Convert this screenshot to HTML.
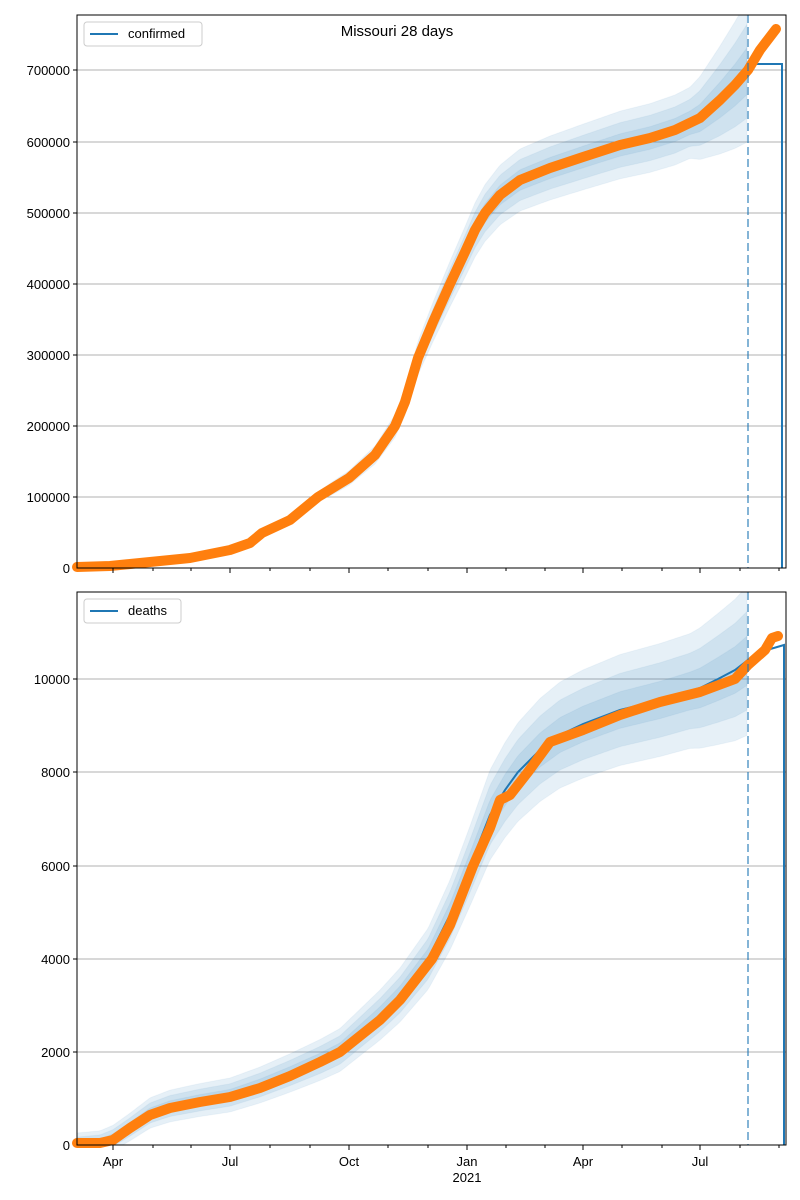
<!DOCTYPE html>
<html><head><meta charset="utf-8"><style>
body{margin:0;background:#fff;}
svg{display:block;font-family:"Liberation Sans","DejaVu Sans",sans-serif;}
</style></head><body>
<svg id="s" width="800" height="1200" xmlns="http://www.w3.org/2000/svg">
<rect width="800" height="1200" fill="#fff"/>
<g id="top"></g><g id="bot"></g>
<text x="397" y="36" font-size="15" text-anchor="middle">Missouri 28 days</text>
</svg>
<script>
const NS="http://www.w3.org/2000/svg";
function el(p,t,a,txt){const e=document.createElementNS(NS,t);for(const k in a)e.setAttribute(k,a[k]);if(txt!==undefined)e.textContent=txt;p.appendChild(e);return e;}
function interp(pts,x){if(x<=pts[0][0])return pts[0][1];for(let i=1;i<pts.length;i++){if(x<=pts[i][0]){const a=pts[i-1],b=pts[i];return a[1]+(b[1]-a[1])*(x-a[0])/(b[0]-a[0]);}}return pts[pts.length-1][1];}
function chart(g,y0,y1,yt,ylabs,model,obs,wfun,stepEnd,legend,xlabels){
  const X0=77,X1=786;
  yt.forEach((y,i)=>{el(g,'line',{x1:X0,x2:X1,y1:y,y2:y,stroke:'#b0b0b0','stroke-width':1});
    el(g,'line',{x1:X0-4,x2:X0,y1:y,y2:y,stroke:'#000'});
    el(g,'text',{x:X0-7,y:y+5,'font-size':13,'text-anchor':'end'},ylabs[i]);});
  [1,0.66,0.33].forEach(f=>{let up=[],dn=[];for(let x=X0;x<=748;x+=2){const c=interp(model,x),w=wfun(x,c)*f;up.push([x,Math.max(y0,c-w)]);dn.push([x,Math.min(y1,c+w)]);}
    const d='M'+up.map(p=>p.join(',')).join('L')+'L'+dn.reverse().map(p=>p.join(',')).join('L')+'Z';
    el(g,'path',{d:d,fill:'#1f77b4','fill-opacity':0.11,stroke:'#1f77b4','stroke-opacity':0.05});});
  let md='M'+model.map(p=>p.join(',')).join('L')+stepEnd;
  el(g,'path',{d:md,fill:'none',stroke:'#1f77b4','stroke-width':2});
  el(g,'polyline',{points:obs.map(p=>p.join(',')).join(' '),fill:'none',stroke:'#ff7f0e','stroke-width':10,'stroke-linecap':'round','stroke-linejoin':'round'});
  el(g,'line',{x1:748,x2:748,y1:y0,y2:y1,stroke:'#1f77b4','stroke-opacity':0.55,'stroke-width':2,'stroke-dasharray':'8,4'});
  el(g,'rect',{x:X0,y:y0,width:X1-X0,height:y1-y0,fill:'none',stroke:'#000','stroke-width':1});
  const maj=[113,230,349,467,583,700],mn=[153,191,270,310,388,428,506,545,622,662,740,779];
  maj.forEach(x=>el(g,'line',{x1:x,x2:x,y1:y1,y2:y1+5,stroke:'#000'}));
  mn.forEach(x=>el(g,'line',{x1:x,x2:x,y1:y1,y2:y1+3,stroke:'#000'}));
  if(xlabels){const L=['Apr','Jul','Oct','Jan','Apr','Jul'];maj.forEach((x,i)=>el(g,'text',{x:x,y:y1+21,'font-size':13,'text-anchor':'middle'},L[i]));
    el(g,'text',{x:467,y:y1+37,'font-size':13,'text-anchor':'middle'},'2021');}
  const lw=legend.length*7+55;
  el(g,'rect',{x:84,y:y0+7,width:lw,height:24,rx:3,fill:'#fff','fill-opacity':0.85,stroke:'#ccc'});
  el(g,'line',{x1:90,x2:118,y1:y0+19,y2:y0+19,stroke:'#1f77b4','stroke-width':2});
  el(g,'text',{x:128,y:y0+23,'font-size':13},legend);
}
const topObs=[[77,567],[110,566],[150,562],[190,558],[230,550],[250,543],[262,533],[290,520],[318,497],[349,478],[375,455],[395,426],[405,402],[418,358],[433,322],[450,284],[465,252],[475,230],[485,213],[500,195],[520,180],[550,168],[583,157],[620,145],[650,138],[675,130],[700,118],[720,100],[735,85],[748,70],[760,50],[776,29]];
chart(document.getElementById('top'),15,568,[568,497,426,355,284,213,142,70],['0','100000','200000','300000','400000','500000','600000','700000'],
 topObs.filter(p=>p[0]<=748),topObs,
 (x,c)=>{let w=0.08*(568-c);if(x<330)w*=Math.max(0,(x-250)/80);if(x>690)w+=(x-690)*0.55;return w;},
 'L748,64L782,64L782,568','confirmed',false);
const model=[[77,1145],[100,1143],[113,1138],[130,1127],[150,1113],[170,1106],[200,1100],[230,1095],[260,1085],[290,1073],[320,1060],[340,1050],[380,1015],[400,995],[428,959],[450,915],[470,866],[490,815],[505,790],[518,772],[540,750],[560,735],[583,724],[620,710],[660,700],[700,688],[718,679],[735,670],[748,660],[760,652],[784,645]];
const obs=[[77,1143],[100,1143],[113,1140],[130,1128],[150,1115],[170,1108],[200,1102],[230,1097],[260,1088],[290,1076],[320,1062],[340,1052],[380,1020],[400,1000],[432,959],[450,925],[473,866],[490,828],[500,800],[510,795],[528,772],[550,742],[583,730],[620,715],[660,702],[700,692],[735,679],[748,665],[765,650],[772,638],[778,636]];
chart(document.getElementById('bot'),592,1145,[1145,1052,959,866,772,679],['0','2000','4000','6000','8000','10000'],
 model,obs,(x,c)=>{let w=12+0.1*(1145-c);if(x>690)w+=(x-690)*0.25;return w;},
 'L784,1145','deaths',true);
</script>
</body></html>
